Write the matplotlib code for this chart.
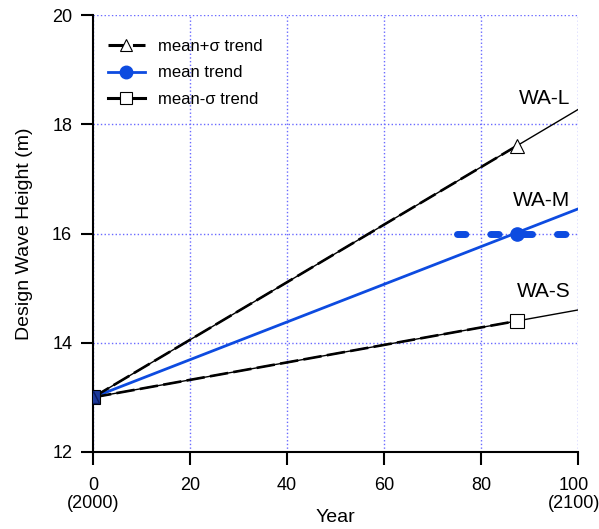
import numpy as np
import matplotlib
matplotlib.use('Agg')
from matplotlib import pyplot as plt
from matplotlib import transforms

plt.rcParams['font.family'] = ['Liberation Sans', 'DejaVu Sans']

# trend end points (year offset, wave height in m)
years = [0, 100]
wa_l = [13.0, 18.27]
wa_m = [13.0, 16.45]
wa_s = [13.0, 14.6]

# marker positions of the three trends
mark_x = 87.5
mark_l = 17.6
mark_m = 16.0
mark_s = 14.4

# design wave height band (dashed blue)
band_x = [75, 98]
band_y = [16.0, 16.0]

labels = ['WA-L', 'WA-M', 'WA-S']
label_y = [18.47, 16.6, 14.93]

xticks = [0, 20, 40, 60, 80, 100]
xticklabels = ['0\n(2000)', '20', '40', '60', '80', '100\n(2100)']
yticks = [12, 14, 16, 18, 20]

blue = '#0d4be0'
grid_c = '#6a6aff'

fig = plt.figure(figsize=(5.99, 5.29), dpi=100)
ax = fig.add_axes([0.1553, 0.1456, 0.8097, 0.826])

# thin solid trend lines over the whole century
ax.plot(years, wa_l, color='k', lw=1.0, zorder=3)
ax.plot(years, wa_s, color='k', lw=1.0, zorder=3)
ax.plot(years, wa_m, color=blue, lw=2.0, zorder=3)

# dashed overlays up to the marker
def at(y, x):
    return y[0] + (y[1] - y[0]) * x / 100.0

ax.plot([0, mark_x], [wa_l[0], at(wa_l, mark_x)], color='k', lw=1.9,
        dashes=(7, 2), zorder=3)
ax.plot([0, mark_x], [wa_s[0], at(wa_s, mark_x)], color='k', lw=1.9,
        dashes=(7, 2), zorder=3)

ax.plot(band_x, band_y, color=blue, lw=5, dashes=(1.2, 3.6),
        dash_capstyle='round', zorder=4)

# markers
ax.plot([0], [13], marker='s', ms=10, mfc='#1d3a9a', mec='k', mew=0.8,
        ls='none', zorder=5)
ax.plot([0], [13], marker='^', ms=8, mfc='none', mec='#0a1a60', mew=1,
        ls='none', zorder=6)
ax.plot([mark_x], [mark_l], marker='^', ms=10.5, mfc='white', mec='k',
        mew=0.8, ls='none', zorder=5)
ax.plot([mark_x], [mark_m], marker='o', ms=9.5, mfc=blue, mec=blue,
        ls='none', zorder=5)
ax.plot([mark_x], [mark_s], marker='s', ms=10.5, mfc='white', mec='k',
        mew=0.8, ls='none', zorder=5)

for lab, ly in zip(labels, label_y):
    ax.text(98.4, ly, lab, ha='right', va='center', fontsize=15)

# legend handles
h1, = ax.plot([], [], color='k', lw=2.2, marker='^', ms=8, mfc='white',
              mec='k', mew=0.8, dashes=(6, 2))
h2, = ax.plot([], [], color=blue, lw=2, marker='o', ms=9, mfc=blue, mec=blue)
h3, = ax.plot([], [], color='k', lw=2.2, marker='s', ms=8, mfc='white',
              mec='k', mew=0.8)
ax.legend([h1, h2, h3], ['mean+σ trend', 'mean trend', 'mean-σ trend'],
          loc='upper left', bbox_to_anchor=(0.0, 0.98), frameon=False,
          fontsize=12, handlelength=2.2, labelspacing=0.7)

ax.set_xlim(0, 100)
ax.set_ylim(12, 20)
ax.set_xticks(xticks)
ax.set_xticklabels(xticklabels, fontsize=13, linespacing=1.05)
ax.set_yticks(yticks)
ax.set_yticklabels([str(v) for v in yticks], fontsize=13)
ax.tick_params(direction='out', length=9, width=1.5, pad=6)
ax.tick_params(axis='x', pad=9)

# nudge the last label so "(2100)" stays inside the picture
last = ax.get_xticklabels()[-1]
last.set_transform(last.get_transform() +
                   transforms.ScaledTranslation(-4 / 100, 0, fig.dpi_scale_trans))

ax.grid(True, color=grid_c, ls=':', lw=1)
for s in ['top', 'right']:
    ax.spines[s].set_visible(False)
for s in ['left', 'bottom']:
    ax.spines[s].set_linewidth(1.5)

ax.set_xlabel('Year', fontsize=14, labelpad=-2)
ax.set_ylabel('Design Wave Height (m)', fontsize=14, labelpad=14)

plt.savefig('out.png', dpi=100)
